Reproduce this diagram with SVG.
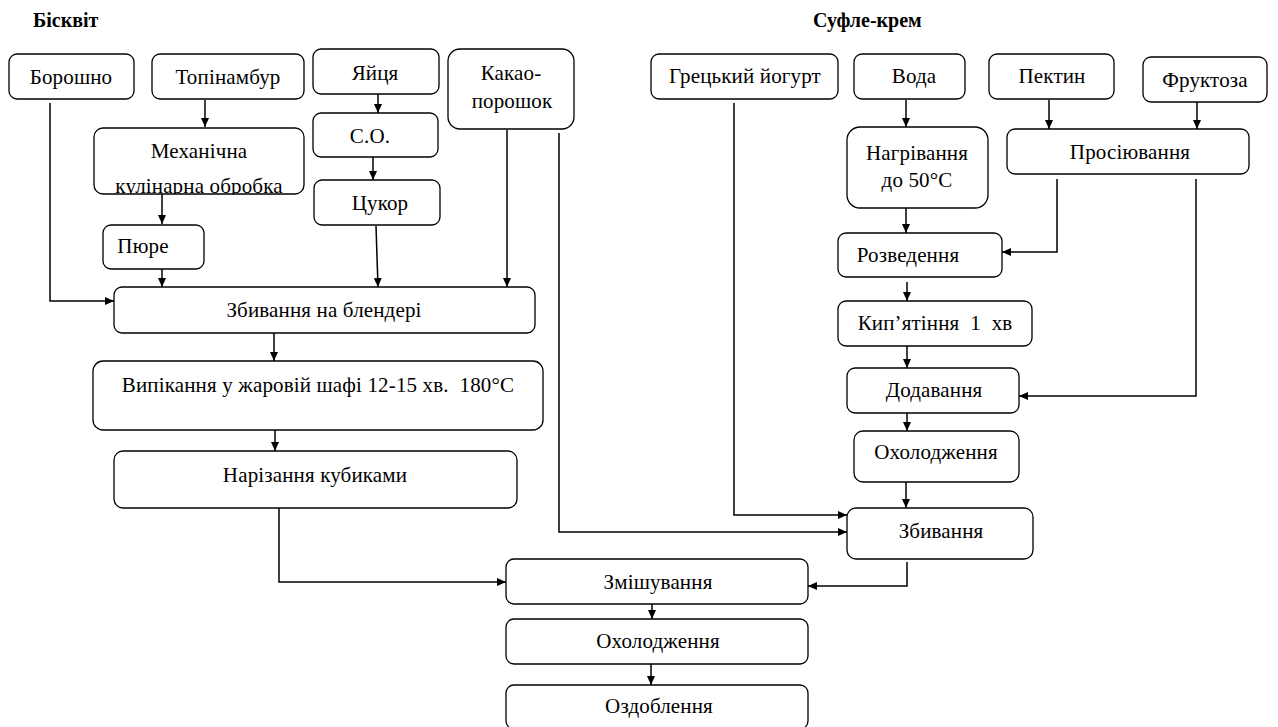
<svg xmlns="http://www.w3.org/2000/svg" width="1278" height="727" viewBox="0 0 1278 727">
<style>
.box{fill:#fff;stroke:#000;stroke-width:1.3}
.t{font-family:"Liberation Serif","Times New Roman",serif;font-size:21px;letter-spacing:0.15px;fill:#000;text-anchor:middle}
.h{font-family:"Liberation Serif","Times New Roman",serif;font-size:20px;font-weight:bold;fill:#000}
.c{fill:none;stroke:#000;stroke-width:1.5}
</style>
<defs>
<marker id="ar" markerUnits="userSpaceOnUse" markerWidth="9" markerHeight="8" refX="9" refY="4" orient="auto">
<path d="M0,0 L9,4 L0,8 z" fill="#000"/>
</marker>
<clipPath id="clipMech"><rect x="94" y="128" width="210" height="66" rx="9"/></clipPath>
</defs>
<rect width="1278" height="727" fill="#fff"/>
<text class="h" x="33" y="27">Бісквіт</text>
<text class="h" x="813" y="27">Суфле-крем</text>

<g id="connectors">
<path class="c" marker-end="url(#ar)" d="M50,103 V301 H114"/>
<path class="c" marker-end="url(#ar)" d="M205,100 V127"/>
<path class="c" marker-end="url(#ar)" d="M162,194 V224"/>
<path class="c" marker-end="url(#ar)" d="M162,269 V287"/>
<path class="c" marker-end="url(#ar)" d="M378,94 V113"/>
<path class="c" marker-end="url(#ar)" d="M373,157 V180"/>
<path class="c" marker-end="url(#ar)" d="M376,226 L378,287"/>
<path class="c" marker-end="url(#ar)" d="M507,130 V287"/>
<path class="c" marker-end="url(#ar)" d="M559,133 V532 H847"/>
<path class="c" marker-end="url(#ar)" d="M274,333 V361"/>
<path class="c" marker-end="url(#ar)" d="M275,430 V451"/>
<path class="c" marker-end="url(#ar)" d="M279,508 V582 H506"/>
<path class="c" marker-end="url(#ar)" d="M652,604 V619"/>
<path class="c" marker-end="url(#ar)" d="M651,664 V685"/>
<path class="c" marker-end="url(#ar)" d="M734,103 V515 H847"/>
<path class="c" marker-end="url(#ar)" d="M906,100 V127"/>
<path class="c" marker-end="url(#ar)" d="M906,208 V233"/>
<path class="c" marker-end="url(#ar)" d="M907,282 V301"/>
<path class="c" marker-end="url(#ar)" d="M907,346 V368"/>
<path class="c" marker-end="url(#ar)" d="M907,413 V431"/>
<path class="c" marker-end="url(#ar)" d="M906,482 V508"/>
<path class="c" marker-end="url(#ar)" d="M907,562 V586 H808"/>
<path class="c" marker-end="url(#ar)" d="M1049,100 V129"/>
<path class="c" marker-end="url(#ar)" d="M1197,102 V129"/>
<path class="c" marker-end="url(#ar)" d="M1057,179 V252 H1002"/>
<path class="c" marker-end="url(#ar)" d="M1196,179 V396 H1019"/>
</g>

<g id="n-borosh"><rect class="box" x="9" y="54" width="125" height="45" rx="8"/><text class="t" x="71" y="84">Борошно</text></g>
<g id="n-topin"><rect class="box" x="152" y="54" width="152" height="45" rx="8"/><text class="t" x="228" y="84">Топінамбур</text></g>
<g id="n-mech"><rect class="box" x="94" y="128" width="210" height="66" rx="9"/><text class="t" x="199" y="158">Механічна</text><text class="t" x="199" y="193" clip-path="url(#clipMech)">кулінарна обробка</text></g>
<g id="n-pure"><rect class="box" x="103" y="225" width="101" height="44" rx="8"/><text class="t" x="143" y="253">Пюре</text></g>
<g id="n-eggs"><rect class="box" x="313" y="49" width="126" height="45" rx="8"/><text class="t" x="375" y="80">Яйця</text></g>
<g id="n-so"><rect class="box" x="313" y="113" width="125" height="44" rx="8"/><text class="t" x="370" y="143">С.О.</text></g>
<g id="n-sugar"><rect class="box" x="314" y="180" width="126" height="45" rx="8"/><text class="t" x="380" y="210">Цукор</text></g>
<g id="n-cocoa"><rect class="box" x="448" y="49" width="126" height="80" rx="12"/><text class="t" x="511" y="80">Какао-</text><text class="t" x="512" y="108">порошок</text></g>
<g id="n-blend"><rect class="box" x="114" y="287" width="421" height="46" rx="8"/><text class="t" x="324" y="317">Збивання на блендері</text></g>
<g id="n-bake"><rect class="box" x="93" y="361" width="450" height="69" rx="10"/><text class="t" x="318" y="392" xml:space="preserve">Випікання у жаровій шафі 12-15 хв.  180°C</text></g>
<g id="n-cut"><rect class="box" x="114" y="451" width="403" height="57" rx="9"/><text class="t" x="315" y="482">Нарізання кубиками</text></g>
<g id="n-mix"><rect class="box" x="506" y="559" width="302" height="45" rx="8"/><text class="t" x="658" y="589">Змішування</text></g>
<g id="n-cool2"><rect class="box" x="506" y="619" width="302" height="45" rx="8"/><text class="t" x="658" y="648">Охолодження</text></g>
<g id="n-decor"><rect class="box" x="506" y="685" width="302" height="44" rx="8"/><text class="t" x="659" y="713">Оздоблення</text></g>

<g id="n-yog"><rect class="box" x="651" y="54" width="187" height="45" rx="8"/><text class="t" x="745" y="83">Грецький йогурт</text></g>
<g id="n-water"><rect class="box" x="854" y="54" width="111" height="45" rx="8"/><text class="t" x="914" y="83">Вода</text></g>
<g id="n-heat"><rect class="box" x="847" y="127" width="141" height="81" rx="13"/><text class="t" x="917" y="160">Нагрівання</text><text class="t" x="917" y="187">до 50°C</text></g>
<g id="n-dil"><rect class="box" x="838" y="233" width="164" height="44" rx="8"/><text class="t" x="908" y="262">Розведення</text></g>
<g id="n-boil"><rect class="box" x="838" y="301" width="194" height="45" rx="8"/><text class="t" x="935" y="330" xml:space="preserve">Кип’ятіння  1  хв</text></g>
<g id="n-add"><rect class="box" x="847" y="368" width="172" height="45" rx="8"/><text class="t" x="934" y="397">Додавання</text></g>
<g id="n-cool1"><rect class="box" x="854" y="431" width="165" height="51" rx="9"/><text class="t" x="936" y="459">Охолодження</text></g>
<g id="n-whip"><rect class="box" x="847" y="508" width="186" height="51" rx="9"/><text class="t" x="941" y="538">Збивання</text></g>
<g id="n-pect"><rect class="box" x="989" y="54" width="125" height="45" rx="8"/><text class="t" x="1052" y="83">Пектин</text></g>
<g id="n-fruct"><rect class="box" x="1143" y="57" width="124" height="45" rx="8"/><text class="t" x="1205" y="87">Фруктоза</text></g>
<g id="n-sift"><rect class="box" x="1007" y="129" width="242" height="45" rx="8"/><text class="t" x="1130" y="159">Просіювання</text></g>
</svg>
